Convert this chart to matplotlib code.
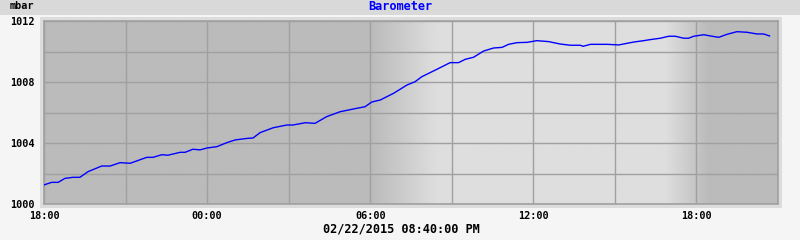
import numpy as np
import pandas as pd
import matplotlib
matplotlib.use("Agg")
import matplotlib.pyplot as plt
import matplotlib.dates as mdates
from matplotlib.patches import Rectangle

# ---- data ----
start_time = "2015-02-21 18:00"
end_time = "2015-02-22 21:00"
hours_since_start = [
    0.00, 0.28, 0.52, 0.77, 1.07, 1.32, 1.62, 2.12, 2.43, 2.80, 3.17, 3.78,
    4.01, 4.33, 4.56, 5.01, 5.19, 5.48, 5.74, 5.99, 6.36, 6.72, 7.03, 7.46,
    7.69, 7.95, 8.43, 8.93, 9.16, 9.61, 9.97, 10.40, 10.89, 11.38, 11.81,
    12.06, 12.37, 12.86, 13.35, 13.65, 13.90, 14.45, 14.94, 15.25, 15.50,
    15.80, 16.17, 16.54, 16.85, 17.09, 17.40, 17.77, 18.13, 18.56, 18.99,
    19.36, 19.73, 19.83, 20.10, 20.71, 20.95, 21.14, 21.69, 22.06, 22.30,
    22.67, 22.98, 23.22, 23.53, 23.71, 23.90, 24.27, 24.51, 24.82, 25.13,
    25.49, 25.86, 26.23, 26.47, 26.69,
]
pressure_mbar = [
    1001.25, 1001.42, 1001.42, 1001.68, 1001.75, 1001.75, 1002.12, 1002.49,
    1002.49, 1002.71, 1002.67, 1003.06, 1003.06, 1003.23, 1003.20, 1003.39,
    1003.39, 1003.59, 1003.55, 1003.67, 1003.76, 1004.02, 1004.20, 1004.30,
    1004.33, 1004.68, 1005.00, 1005.18, 1005.18, 1005.33, 1005.29, 1005.73,
    1006.05, 1006.23, 1006.38, 1006.69, 1006.82, 1007.26, 1007.80, 1008.02,
    1008.35, 1008.83, 1009.27, 1009.27, 1009.49, 1009.62, 1010.03, 1010.23,
    1010.27, 1010.47, 1010.58, 1010.60, 1010.71, 1010.65, 1010.49, 1010.41,
    1010.41, 1010.34, 1010.47, 1010.47, 1010.45, 1010.43, 1010.62, 1010.71,
    1010.78, 1010.87, 1011.00, 1011.00, 1010.87, 1010.87, 1011.00, 1011.10,
    1011.02, 1010.93, 1011.13, 1011.30, 1011.26, 1011.15, 1011.15, 1011.02,
]
y_ticks = [1000, 1004, 1008, 1012]
y_minor = [1002, 1006, 1010]
title = "Barometer"
unit_label = "mbar"
timestamp_label = "02/22/2015 08:40:00 PM"
# day/night shading nodes (hours since start, 0=night 1=day)
shade_hours = [0.0, 12.05, 14.45, 22.9, 24.45, 27.0]
shade_level = [0.0, 0.0, 1.0, 1.0, 0.0, 0.0]

# ---- figure ----
W, H = 800, 240
fig = plt.figure(figsize=(W / 100, H / 100), dpi=100, facecolor="#f5f5f5")

# top band
fig.patches.append(Rectangle((0, 1 - 14.5 / H), 1, 14.5 / H, transform=fig.transFigure,
                             facecolor="#d9d9d9", edgecolor="none", zorder=-2))
# frame around plot
fig.patches.append(Rectangle((40 / W, 1 - 208 / H), 742 / W, 191 / H, transform=fig.transFigure,
                             facecolor="#dcdcdc", edgecolor="none", zorder=-2))

ax = fig.add_axes([44 / W, 1 - 204 / H, 734 / W, 183 / H])
ax.set_zorder(2)

t0 = pd.Timestamp(start_time)
t1 = pd.Timestamp(end_time)
times = t0 + pd.to_timedelta(hours_since_start, unit="h")
x0 = mdates.date2num(t0)
x1 = mdates.date2num(t1)

# background day/night gradient
cols = np.linspace(0, (t1 - t0).total_seconds() / 3600, 800)
lvl = np.interp(cols, shade_hours, shade_level)
dark, light = 0xbb / 255, 0xde / 255
g = dark + (light - dark) * lvl
img = np.repeat(np.stack([g, g, g], axis=-1)[None, :, :], 2, axis=0)
ax.imshow(img, extent=[x0, x1, 1000, 1012], aspect="auto", zorder=0, interpolation="bilinear")

ax.plot(mdates.date2num(times), pressure_mbar, color="#0000ff", lw=1.0, zorder=3)

ax.set_xlim(x0, x1)
ax.set_ylim(1000, 1012)
ax.set_yticks(y_ticks)
ax.set_yticks(y_minor, minor=True)
ax.xaxis.set_major_locator(mdates.HourLocator(byhour=[0, 6, 12, 18]))
ax.xaxis.set_minor_locator(mdates.HourLocator(byhour=list(range(0, 24, 3))))
ax.xaxis.set_major_formatter(mdates.DateFormatter("%H:%M"))

ax.grid(True, which="both", color="#a0a0a0", lw=1.0, zorder=1)
ax.set_axisbelow(False)
for s in ax.spines.values():
    s.set_color("#a0a0a0")
    s.set_linewidth(1.2)
ax.tick_params(which="both", length=0)
ax.tick_params(axis="y", pad=7)
ax.tick_params(axis="x", pad=5)
mono = "DejaVu Sans Mono"
for lab in ax.get_xticklabels() + ax.get_yticklabels():
    lab.set_fontfamily(mono)
    lab.set_fontweight("bold")
    lab.set_fontsize(7.3)
    lab.set_color("black")

fig.text(400 / W, 1 - 7 / H, title, ha="center", va="center", color="#0000ff",
         fontfamily=mono, fontweight="bold", fontsize=8.6)
fig.text(10 / W, 1 - 6 / H, unit_label, ha="left", va="center", color="black",
         fontfamily=mono, fontweight="bold", fontsize=7.3)
fig.text(401 / W, 1 - 229 / H, timestamp_label, ha="center", va="center", color="black",
         fontfamily=mono, fontweight="bold", fontsize=8.6)

fig.savefig("out.png", dpi=100, facecolor=fig.get_facecolor())
